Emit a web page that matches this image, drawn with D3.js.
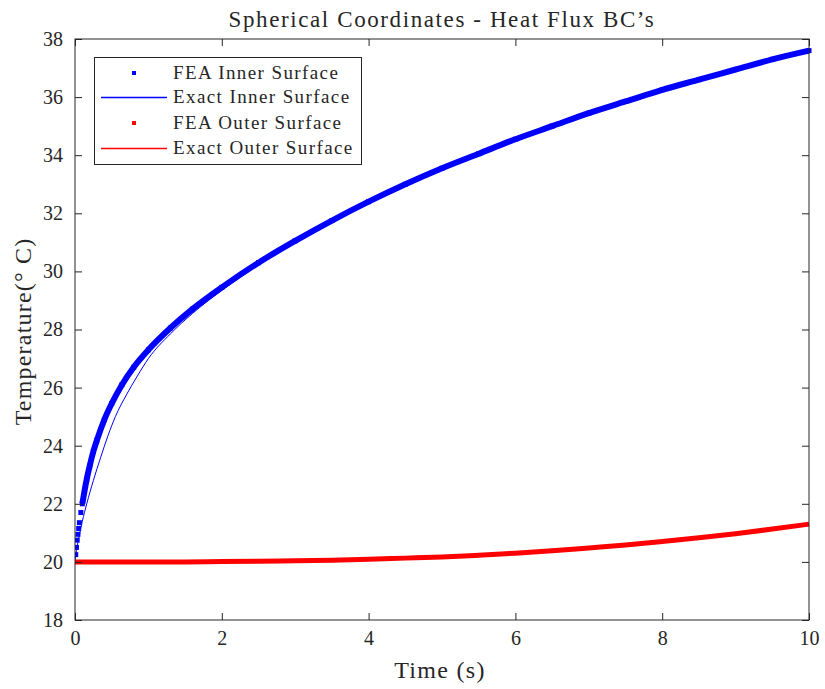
<!DOCTYPE html>
<html>
<head>
<meta charset="utf-8">
<script src="https://cdn.jsdelivr.net/npm/d3@7"></script>
<style>
  body { margin: 0; background: #fff; }
  svg { display: block; }
  text { font-family: "Liberation Serif", "DejaVu Serif", serif; fill: #262626; }
</style>
</head>
<body>
<svg id="chart" width="825" height="689"></svg>
<script>
// ---- data ----
const feaInnerTime = [0.01,0.02,0.03,0.04,0.05,0.06,0.08,0.10,0.13,0.16,0.2,0.25,0.3,0.4,0.5,0.64,0.8,1.0,1.3,1.6,2.0,2.5,3.0,3.5,4.0,4.5,5.0,5.5,6.0,6.5,7.0,7.5,8.0,8.5,9.0,9.5,10.0];
const feaInnerTemp = [20.25,20.5,20.75,20.95,21.15,21.35,21.7,22.0,22.45,22.85,23.3,23.8,24.2,24.9,25.45,26.1,26.7,27.3,28.05,28.7,29.45,30.3,31.05,31.75,32.4,33.0,33.55,34.05,34.55,35.0,35.45,35.85,36.25,36.6,36.95,37.3,37.6];

const exactInnerTime = [0,0.02,0.05,0.1,0.16,0.25,0.35,0.45,0.55,0.7,0.85,1.0,1.3,1.6,2.0,2.5,3.0,3.5,4.0,4.5,5.0,5.5,6.0,6.5,7.0,7.5,8.0,8.5,9.0,9.5,10.0];
const exactInnerTemp = [20.0,20.4,20.8,21.4,22.0,22.8,23.6,24.35,25.0,25.75,26.4,27.0,27.85,28.55,29.35,30.22,31.0,31.72,32.38,32.98,33.53,34.03,34.53,34.98,35.43,35.83,36.23,36.58,36.93,37.28,37.58];

const outerTime = [0,0.5,1,1.5,2,2.5,3,3.5,4,4.5,5,5.5,6,6.5,7,7.5,8,8.5,9,9.5,10];
const feaOuterTemp = [20.0,20.0,20.0,20.0,20.01,20.02,20.04,20.06,20.09,20.13,20.17,20.23,20.3,20.38,20.48,20.58,20.7,20.83,20.97,21.13,21.3];
const exactOuterTemp = [20.0,20.0,20.0,20.0,20.01,20.02,20.04,20.06,20.09,20.13,20.17,20.23,20.3,20.38,20.48,20.58,20.7,20.83,20.97,21.13,21.3];

const xTicks = [0,2,4,6,8,10];
const yTicks = [18,20,22,24,26,28,30,32,34,36,38];
const legendLabels = ["FEA Inner Surface","Exact Inner Surface","FEA Outer Surface","Exact Outer Surface"];
const titleText = "Spherical Coordinates - Heat Flux BC\u2019s";
const xLabel = "Time (s)";
const yLabel = "Temperature(\u00B0 C)";

// ---- layout ----
const svg = d3.select("#chart");
const L = 75, R = 809, T = 39, B = 620;
const x = d3.scaleLinear().domain([0,10]).range([L,R]);
const y = d3.scaleLinear().domain([18,38]).range([B,T]);
const axisColor = "#262626";
const blue = "#0000ff", red = "#ff0000";

const zip = (ts, vs) => ts.map((t,i) => [t, vs[i]]);
const curveLine = d3.line().x(d => x(d[0])).y(d => y(d[1])).curve(d3.curveMonotoneX);

const plot = svg.append("g");
plot.append("defs").append("clipPath").attr("id","clip")
  .append("rect").attr("x",L).attr("y",T-4).attr("width",R-L+4).attr("height",B-T+8);
const g = plot.append("g").attr("clip-path","url(#clip)");

// FEA inner: dense markers -> thick band + squares
const feaIn = zip(feaInnerTime, feaInnerTemp);
g.append("path").datum(feaIn.filter(d => d[0] >= 0.1))
  .attr("d", curveLine).attr("fill","none").attr("stroke",blue).attr("stroke-width",6);
g.selectAll("rect.fi").data(feaIn).join("rect").attr("class","fi")
  .attr("x", d => x(d[0]) - 2.5).attr("y", d => y(d[1]) - 2.5)
  .attr("width",5).attr("height",5).attr("fill",blue);
// exact inner
g.append("path").datum(zip(exactInnerTime, exactInnerTemp))
  .attr("d", curveLine).attr("fill","none").attr("stroke",blue).attr("stroke-width",1);

// FEA outer + exact outer
g.append("path").datum(zip(outerTime, feaOuterTemp))
  .attr("d", curveLine).attr("fill","none").attr("stroke",red).attr("stroke-width",5);
g.append("path").datum(zip(outerTime, exactOuterTemp))
  .attr("d", curveLine).attr("fill","none").attr("stroke",red).attr("stroke-width",1);

// ---- axes ----
const ax = svg.append("g");
ax.append("rect").attr("x",L).attr("y",T).attr("width",R-L).attr("height",B-T)
  .attr("fill","none").attr("stroke",axisColor).attr("stroke-width",1);

const xAxisB = d3.axisBottom(x).tickValues(xTicks).tickSize(-7).tickPadding(11).tickFormat(d3.format("d"));
const xAxisT = d3.axisTop(x).tickValues(xTicks).tickSize(-7).tickFormat("");
const yAxisL = d3.axisLeft(y).tickValues(yTicks).tickSize(-7).tickPadding(12).tickFormat(d3.format("d"));
const yAxisR = d3.axisRight(y).tickValues(yTicks).tickSize(-7).tickFormat("");

function styleAxis(sel){
  sel.select(".domain").remove();
  sel.selectAll(".tick line").attr("stroke",axisColor);
  sel.selectAll(".tick text").attr("fill",axisColor).style("font-size","20px")
     .style("font-family",'"Liberation Serif", "DejaVu Serif", serif');
}
ax.append("g").attr("transform",`translate(0,${B})`).call(xAxisB).call(styleAxis);
ax.append("g").attr("transform",`translate(0,${T})`).call(xAxisT).call(styleAxis);
ax.append("g").attr("transform",`translate(${L},0)`).call(yAxisL).call(styleAxis);
ax.append("g").attr("transform",`translate(${R},0)`).call(yAxisR).call(styleAxis);

// title and labels
svg.append("text").attr("x",(L+R)/2).attr("y",27).attr("text-anchor","middle")
  .style("font-size","23px").style("letter-spacing","1.6px").text(titleText);
svg.append("text").attr("x",(L+R)/2 - 2).attr("y",678).attr("text-anchor","middle")
  .style("font-size","24px").style("letter-spacing","1.3px").text(xLabel);
svg.append("text").attr("transform",`translate(31,${(T+B)/2 + 2}) rotate(-90)`).attr("text-anchor","middle")
  .style("font-size","24px").style("letter-spacing","1.2px").text(yLabel);

// ---- legend ----
const lg = svg.append("g");
lg.append("rect").attr("x",94.5).attr("y",57.5).attr("width",267).attr("height",107)
  .attr("fill","#fff").attr("stroke",axisColor).attr("stroke-width",1);
const rowsY = [73, 97, 123, 148];
const colors = [blue, blue, red, red];
legendLabels.forEach((lab,i) => {
  const yy = rowsY[i];
  if (i % 2 === 0) {
    lg.append("rect").attr("x",132).attr("y",yy-2).attr("width",4).attr("height",4).attr("fill",colors[i]);
  } else {
    lg.append("line").attr("x1",101).attr("x2",167).attr("y1",yy+0.5).attr("y2",yy+0.5)
      .style("stroke",colors[i]).style("stroke-width","1.3px");
  }
  lg.append("text").attr("x",173).attr("y",yy+6).style("font-size","19px")
    .style("letter-spacing","1.4px").text(lab);
});
</script>
</body>
</html>
